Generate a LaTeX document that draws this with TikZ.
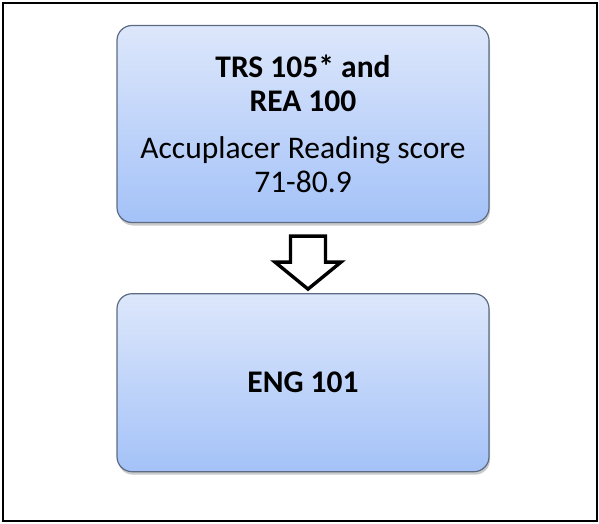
\documentclass[tikz,border=0pt]{standalone}
\usepackage{fontspec}
\setmainfont{Carlito}
\usetikzlibrary{positioning,calc,shadows}
\definecolor{boxtop}{HTML}{DDE7FB}
\definecolor{boxbottom}{HTML}{A4C2F8}
\definecolor{boxline}{HTML}{5C6B82}
\tikzset{
  coursebox/.style={draw=boxline, line width=1.2pt, rounded corners=15pt,
    top color=boxtop, bottom color=boxbottom, minimum width=372pt,
    align=center, font=\fontsize{31.5}{34}\selectfont,
    drop shadow={shadow xshift=1pt, shadow yshift=-3pt, opacity=0.35, fill=black!60}},
  blockarrow/.style={draw=black, line width=3.4pt, fill=white, line join=miter}
}
\begin{document}
\begin{tikzpicture}[x=1pt, y=-1pt]
    \useasboundingbox (0,0) rectangle (599,524);
    \draw[line width=1.6pt] (3,3) rectangle (597,521);
    % Nodes
    \node (trs) [coursebox, minimum height=197pt] at (303,124)
      {\bfseries TRS 105* and\\ \bfseries REA 100\\[13pt]
       Accuplacer Reading score\\ 71-80.9};
    \node (eng) [coursebox, below=70pt of trs, minimum height=178pt] {\bfseries ENG 101};
    % Arrows
    \coordinate (shaft) at ($(trs.south)+(5,13)$);
    \draw[blockarrow] ($(shaft)+(-17.5,0)$) -- ($(shaft)+(17.5,0)$)
      -- ($(shaft)+(17.5,26)$) -- ($(shaft)+(33,26)$) -- ($(eng.north)+(5,-4)$)
      -- ($(shaft)+(-33,26)$) -- ($(shaft)+(-17.5,26)$) -- cycle;
  \end{tikzpicture}
\end{document}
